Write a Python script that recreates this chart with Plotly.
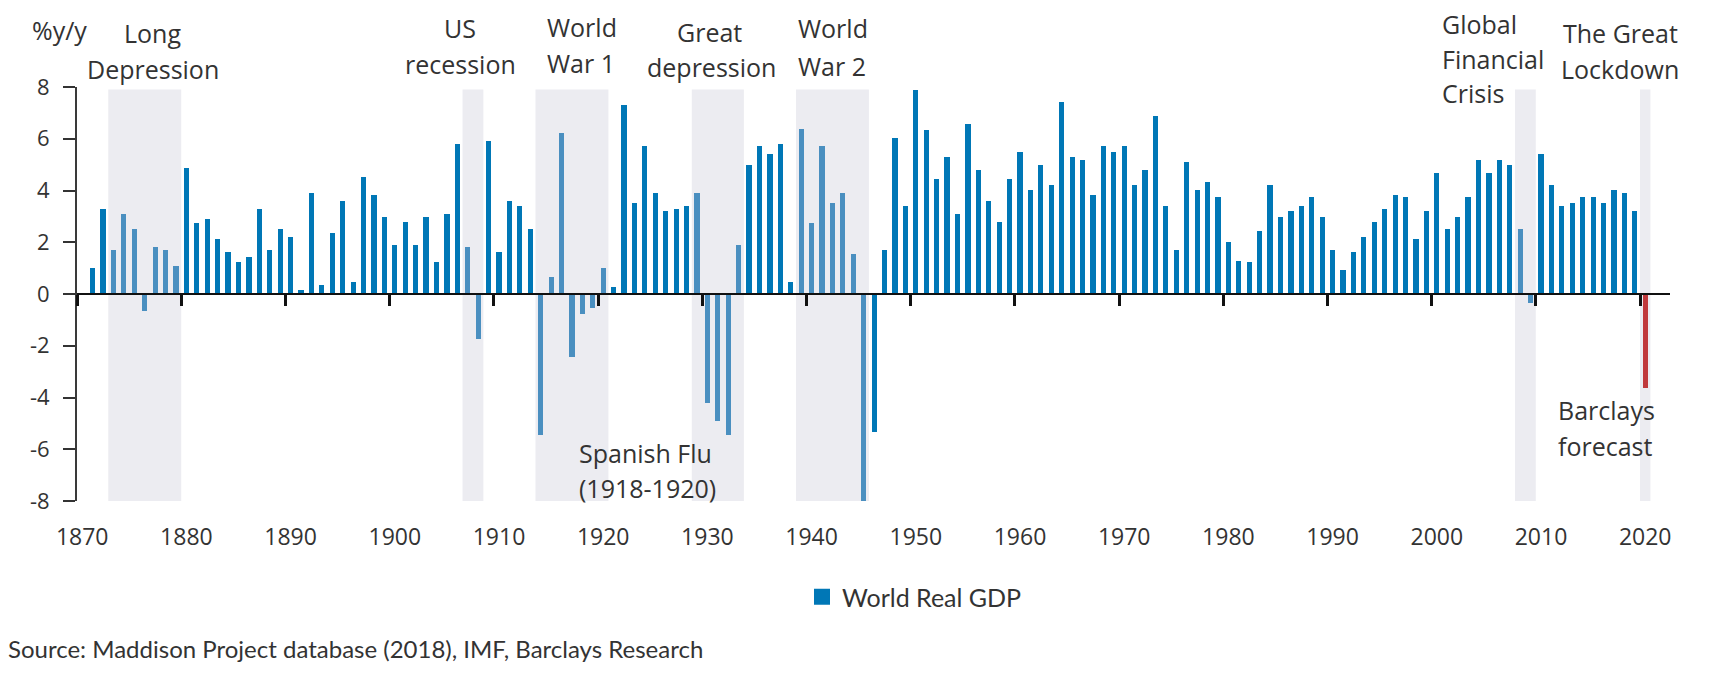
import plotly.graph_objects as go

# ---------------- data ----------------
years = list(range(1871, 2021))
growth = [
    1.00, 3.30, 1.72, 3.11, 2.53, -0.66, 1.83, 1.72, 1.10, 4.88,   # 1871-1880
    2.75, 2.91, 2.14, 1.61, 1.22, 1.43, 3.30, 1.72, 2.53, 2.21,    # 1881-1890
    0.14, 3.92, 0.33, 2.34, 3.60, 0.45, 4.52, 3.84, 2.98, 1.91,    # 1891-1900
    2.79, 1.91, 2.98, 1.22, 3.11, 5.80, 1.83, -1.73, 5.91, 1.61,   # 1901-1910
    3.60, 3.41, 2.53, -5.43, 0.65, 6.23, -2.45, -0.77, -0.56, 1.00,  # 1911-1920
    0.27, 7.30, 3.53, 5.72, 3.92, 3.22, 3.30, 3.41, 3.92, -4.23,   # 1921-1930
    -4.92, -5.43, 1.91, 4.99, 5.72, 5.42, 5.80, 0.45, 6.36, 2.75,  # 1931-1940
    5.72, 3.53, 3.92, 1.53, -8.00, -5.32, 1.72, 6.03, 3.41, 7.90,  # 1941-1950
    6.32, 4.45, 5.29, 3.11, 6.57, 4.80, 3.60, 2.79, 4.45, 5.48,    # 1951-1960
    4.03, 4.99, 4.22, 7.41, 5.29, 5.18, 3.84, 5.72, 5.48, 5.72,    # 1961-1970
    4.22, 4.80, 6.87, 3.41, 1.72, 5.10, 4.03, 4.33, 3.73, 2.02,    # 1971-1980
    1.29, 1.22, 2.43, 4.22, 2.98, 3.22, 3.41, 3.73, 2.98, 1.72,    # 1981-1990
    0.93, 1.61, 2.21, 2.79, 3.30, 3.84, 3.73, 2.14, 3.22, 4.69,    # 1991-2000
    2.53, 2.98, 3.73, 5.18, 4.69, 5.18, 4.99, 2.53, -0.34, 5.40,   # 2001-2010
    4.22, 3.41, 3.53, 3.73, 3.73, 3.53, 4.03, 3.92, 3.22, -3.64,   # 2011-2020
]
forecast_years = [2020]

# shaded episodes (first year, last year)
episode_start = [1873, 1907, 1914, 1929, 1939, 2008, 2020]
episode_end = [1879, 1908, 1920, 1933, 1945, 2009, 2020]

tick_years = list(range(1870, 2021, 10))
tick_text = [str(y) for y in tick_years]
y_ticks = [-8, -6, -4, -2, 0, 2, 4, 6, 8]

# ---------------- layout geometry ----------------
W_FIG, H_FIG = 1709, 678
L, R, T, B = 77, 39, 87, 177
PW, PH = W_FIG - L - R, H_FIG - T - B
X0 = 1869.5
X1 = X0 + PW / 10.42
Y0, Y1 = -8, 8

DARK = "#0077b6"
LIGHT = "#4a8fc0"
RED = "#c0393c"
SHADE = "#ececf1"
TXT = "#333333"
FONT = "Open Sans"


def in_episode(y):
    return any(s <= y <= e for s, e in zip(episode_start, episode_end))


colors = []
for y in years:
    if y in forecast_years:
        colors.append(RED)
    elif in_episode(y):
        colors.append(LIGHT)
    else:
        colors.append(DARK)

fig = go.Figure()
fig.add_trace(go.Bar(
    x=years, y=growth, width=0.5, name="World Real GDP",
    marker=dict(color=colors, line=dict(width=0)),
    xaxis="x2", yaxis="y", showlegend=False, hoverinfo="skip",
))
# legend entry (larger square swatch, as in the original)
fig.add_trace(go.Scatter(
    x=[None], y=[None], mode="markers", name="World Real GDP",
    marker=dict(symbol="square", size=17, color=DARK),
    xaxis="x2", yaxis="y", showlegend=True,
))

for s, e in zip(episode_start, episode_end):
    fig.add_shape(type="rect", xref="x", yref="y", x0=s - 0.5, x1=e + 0.5,
                  y0=-8, y1=7.9, fillcolor=SHADE, line=dict(width=0), layer="below")


def px_x(px):
    return (px - L) / PW


def px_y(py):
    return 1 - (py - T) / PH


def label(text, x_px, base_px, anchor="center", size=25, family=FONT):
    fig.add_annotation(
        text=text, xref="paper", yref="paper",
        x=px_x(x_px), y=px_y(base_px - 0.39 * size),
        xanchor=anchor, yanchor="middle", showarrow=False,
        font=dict(family=family, size=size, color=TXT),
    )


label("%y/y", 30, 40, "left", 25)
label("Long", 152, 43)
label("Depression", 153, 79)
label("US", 460, 37.5)
label("recession", 460, 74)
label("World", 545, 37, "left")
label("War 1", 545, 72.5, "left")
label("Great", 709, 42)
label("depression", 711, 77)
label("World", 796, 37.5, "left")
label("War 2", 796, 75.5, "left")
label("Global", 1440, 34, "left")
label("Financial", 1440, 68.5, "left")
label("Crisis", 1440, 103, "left")
label("The Great", 1620, 43)
label("Lockdown", 1620, 78.5)
label("Barclays", 1556, 419.5, "left")
label("forecast", 1556, 455.5, "left")
label("Spanish Flu", 577, 463, "left")
label("(1918-1920)", 577, 498, "left")
label("Source: Maddison Project database (2018), IMF, Barclays Research", 6, 658,
      "left", 24, "Lato")

fig.update_layout(
    width=W_FIG, height=H_FIG,
    margin=dict(l=L, r=R, t=T, b=B, pad=0, autoexpand=False),
    paper_bgcolor="white", plot_bgcolor="white",
    bargap=0,
    font=dict(family=FONT, color=TXT, size=22),
    showlegend=True,
    legend=dict(
        x=px_x(802), y=px_y(597), xanchor="left", yanchor="middle",
        font=dict(family="Lato", size=25, color=TXT),
        bgcolor="rgba(0,0,0,0)", itemwidth=30,
    ),
    xaxis=dict(
        range=[X0, X1], tickvals=tick_years, ticktext=tick_text,
        showgrid=False, zeroline=False, showline=False, ticks="",
        tickfont=dict(family=FONT, size=23, color=TXT),
        ticklabelstandoff=20, tickangle=0, automargin=False,
    ),
    xaxis2=dict(
        overlaying="x", anchor="free", position=0.5, range=[X0, X1],
        tickvals=[t - 0.5 for t in tick_years], showticklabels=False,
        ticks="outside", ticklen=11, tickwidth=2.5, tickcolor="#111111",
        showline=True, linecolor="#111111", linewidth=2,
        showgrid=False, zeroline=False, automargin=False,
    ),
    yaxis=dict(
        range=[Y0, Y1], tickvals=y_ticks, ticktext=[str(v) for v in y_ticks],
        showgrid=False, zeroline=False, showline=True, linecolor="#3a3a3a",
        linewidth=2, ticks="outside", ticklen=12, tickwidth=2, tickcolor="#333333",
        tickfont=dict(family=FONT, size=22, color=TXT),
        ticklabelstandoff=9, automargin=False,
    ),
)

fig.write_html("out.html", config={"displayModeBar": False},
               post_script="document.body.style.margin='0px';")
